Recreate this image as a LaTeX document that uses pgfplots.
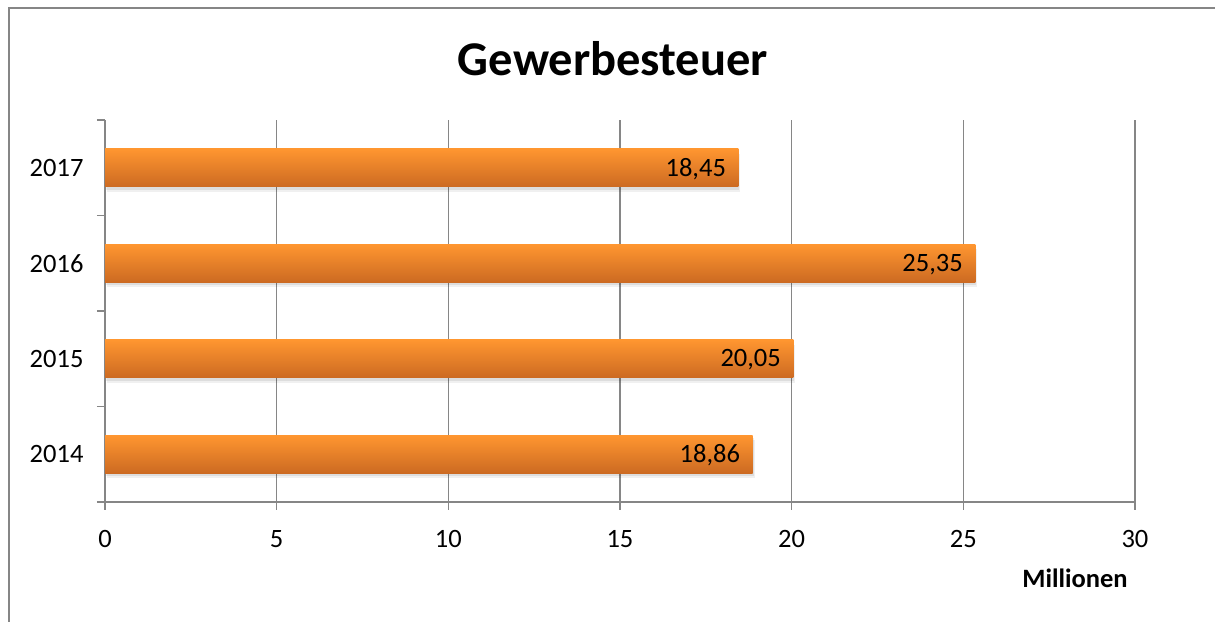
\documentclass[border=0pt]{standalone}
\usepackage{fontspec}
\setmainfont{Carlito}
\usepackage{pgfplots}
\pgfplotsset{compat=1.18}
\definecolor{axgray}{RGB}{134,134,134}
\definecolor{bartop}{RGB}{255,150,48}
\definecolor{barbot}{RGB}{204,106,34}
\newcommand{\lbl}{\fontsize{26.5}{31}\selectfont}

% one bar: shadow layers, then the shaded bar with its value
\newcommand{\gbar}[2]{%
  \addplot[xbar, bar width=38pt, bar shift=-5pt, xshift=2pt, draw=none, fill=black, fill opacity=0.06] coordinates {(#1,#2)};
  \addplot[xbar, bar width=38pt, bar shift=-3pt, xshift=1pt, draw=none, fill=black, fill opacity=0.08] coordinates {(#1,#2)};
  \addplot[xbar, bar width=38pt, bar shift=0pt, draw=none, top color=bartop, bottom color=barbot,
    point meta=x, nodes near coords,
    every node near coord/.style={anchor=east, xshift=-9pt, yshift=-1pt, font=\lbl, text=black},
    nodes near coords={\pgfmathprintnumber[fixed, fixed zerofill, precision=2, use comma, assume math mode=true]{\pgfplotspointmeta}}]
    coordinates {(#1,#2)};
}

\begin{document}
\begin{tikzpicture}[x=1pt,y=1pt]
\clip (0,0) rectangle (1215,621);
\useasboundingbox (0,0) rectangle (1215,621);
\draw[axgray, line width=1.5pt] (9,-30) -- (9,613) -- (1260,613);
\node[font=\fontsize{48.5}{52}\selectfont\bfseries] at (613,562) {Gewerbesteuer};
\node[font=\fontsize{26.5}{31}\selectfont\bfseries] at (1075,43) {Millionen};
\begin{axis}[
  at={(105pt,119pt)}, anchor=south west,
  scale only axis, width=1030pt, height=382pt,
  xmin=0, xmax=30, ymin=0.5, ymax=4.5,
  axis lines=left, axis line style={axgray, line width=1.5pt, -},
  xtick={0,5,...,30},
  ytick={0.5,1.5,2.5,3.5,4.5}, yticklabels={},
  extra y ticks={1,2,3,4}, extra y tick labels={2014,2015,2016,2017},
  extra y tick style={major tick length=0pt, grid=none},
  tick align=outside, major tick length=8pt,
  tick style={axgray, line width=1.5pt},
  xmajorgrids, major grid style={axgray, line width=1.5pt},
  ticklabel style={font=\lbl, text=black},
  xticklabel style={yshift=-17pt},
  yticklabel style={xshift=-18pt},
  /pgf/number format/assume math mode=true,
  clip=false,
]
\gbar{18.86}{1}
\gbar{20.05}{2}
\gbar{25.35}{3}
\gbar{18.45}{4}
\end{axis}
\end{tikzpicture}
\end{document}
